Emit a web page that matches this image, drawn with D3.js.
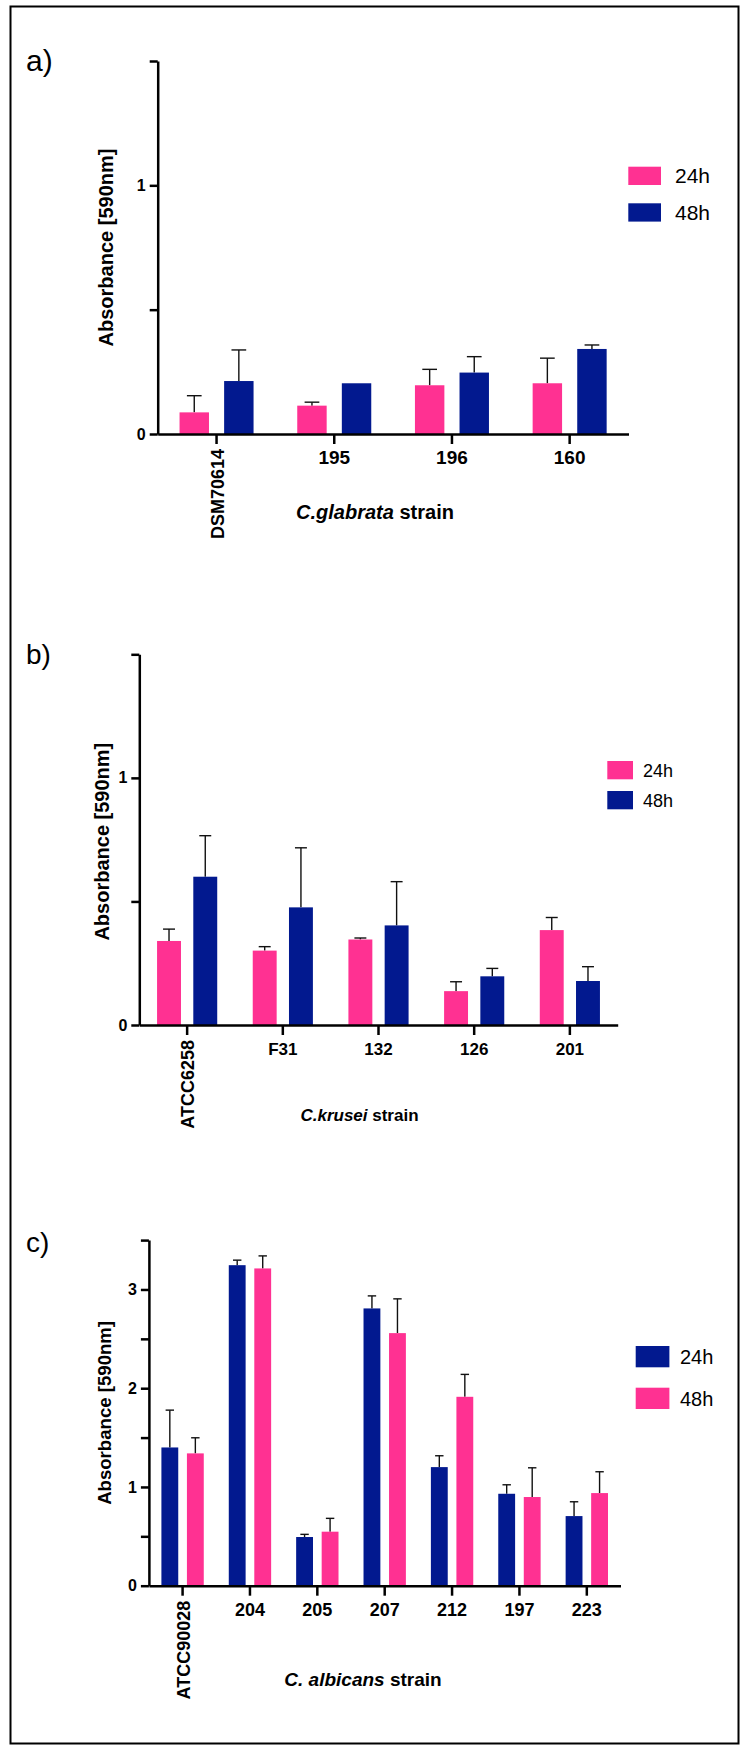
<!DOCTYPE html>
<html>
<head>
<meta charset="utf-8">
<script src="https://cdn.jsdelivr.net/npm/d3@7"></script>
<style>
  body { margin: 0; background: #fff; }
  text { font-family: Arial, "Liberation Sans", sans-serif; }
</style>
</head>
<body>
<div id="vis"></div>
<script>
// values (error = SD, drawn upwards only)
var glabrataStrains = ["DSM70614", "195", "196", "160"],
    glabrata24 = [0.087, 0.114, 0.196, 0.204],
    glabrata24Err = [0.067, 0.014, 0.064, 0.101],
    glabrata48 = [0.213, 0.204, 0.247, 0.342],
    glabrata48Err = [0.125, 0, 0.064, 0.016];

var kruseiStrains = ["ATCC6258", "F31", "132", "126", "201"],
    krusei24 = [0.340, 0.301, 0.346, 0.137, 0.384],
    krusei24Err = [0.048, 0.016, 0.006, 0.038, 0.051],
    krusei48 = [0.600, 0.476, 0.403, 0.197, 0.178],
    krusei48Err = [0.166, 0.241, 0.177, 0.032, 0.058];

var albicansStrains = ["ATCC90028", "204", "205", "207", "212", "197", "223"],
    albicans24 = [1.40, 3.246, 0.493, 2.808, 1.201, 0.931, 0.705],
    albicans24Err = [0.378, 0.051, 0.027, 0.127, 0.115, 0.091, 0.145],
    albicans48 = [1.34, 3.213, 0.547, 2.558, 1.913, 0.898, 0.938],
    albicans48Err = [0.158, 0.127, 0.135, 0.347, 0.227, 0.296, 0.216];

var series = ["24h", "48h"];

var pink = "#ff3192",
    navy = "#02198f";

var w = 741, h = 1746;

var svg = d3.select("#vis").append("svg")
    .attr("width", w)
    .attr("height", h);

svg.append("rect")
    .attr("x", 10.5).attr("y", 6.5)
    .attr("width", 728).attr("height", 1737)
    .attr("fill", "none")
    .attr("stroke", "#000")
    .attr("stroke-width", 2);

function drawPanel(p) {
  var g = svg.append("g");

  var x = d3.scaleBand().domain(p.strains).range([p.left, p.right]);
  var x1 = d3.scaleBand().domain(series).range([0, x.bandwidth()])
      .paddingInner(0.34).paddingOuter(0.49);
  var y = d3.scaleLinear().domain([0, p.max]).range([p.bottom, p.top]);

  var rows = [];
  p.strains.forEach(function(s, i) {
    rows.push({strain: s, key: "24h", v: p.v24[i], e: p.e24[i]});
    rows.push({strain: s, key: "48h", v: p.v48[i], e: p.e48[i]});
  });

  // error bars (upper only)
  var eb = g.selectAll(".err")
      .data(rows.filter(function(d) { return d.e > 0; }))
    .enter().append("g")
      .attr("class", "err")
      .attr("stroke", "#111")
      .attr("stroke-width", 1.4);
  eb.append("line")
      .attr("x1", function(d) { return x(d.strain) + x1(d.key) + x1.bandwidth() / 2; })
      .attr("x2", function(d) { return x(d.strain) + x1(d.key) + x1.bandwidth() / 2; })
      .attr("y1", function(d) { return y(d.v); })
      .attr("y2", function(d) { return y(d.v + d.e); });
  eb.append("line")
      .attr("x1", function(d) { return x(d.strain) + x1(d.key) + x1.bandwidth() / 4; })
      .attr("x2", function(d) { return x(d.strain) + x1(d.key) + x1.bandwidth() * 3 / 4; })
      .attr("y1", function(d) { return y(d.v + d.e); })
      .attr("y2", function(d) { return y(d.v + d.e); });

  g.selectAll(".bar")
      .data(rows)
    .enter().append("rect")
      .attr("class", "bar")
      .attr("x", function(d) { return x(d.strain) + x1(d.key); })
      .attr("y", function(d) { return y(d.v); })
      .attr("width", x1.bandwidth())
      .attr("height", function(d) { return y(0) - y(d.v); })
      .attr("fill", function(d) { return p.colors[d.key]; });

  // y axis
  var yAxis = g.append("g")
      .attr("transform", "translate(" + p.left + ",0)")
      .call(d3.axisLeft(y)
        .tickValues(d3.range(0, p.max + 0.001, 0.5))
        .tickFormat(function(d) { return d % 1 === 0 ? d : ""; })
        .tickSize(8).tickSizeOuter(0).tickPadding(4));
  yAxis.selectAll("path, line").attr("stroke", "#000").attr("stroke-width", 2.5);
  yAxis.selectAll("text")
      .attr("fill", "#000")
      .style("font-size", "16px")
      .style("font-weight", "bold");

  // x axis
  var xAxis = g.append("g")
      .attr("transform", "translate(0," + p.bottom + ")")
      .call(d3.axisBottom(x).tickSize(10).tickSizeOuter(0));
  xAxis.selectAll("path, line").attr("stroke", "#000").attr("stroke-width", 2.5);
  xAxis.selectAll("text")
      .attr("fill", "#000")
      .attr("y", 30)
      .attr("dy", 0)
      .style("font-size", p.xFont + "px")
      .style("font-weight", "bold");
  xAxis.selectAll("text")
      .filter(function(d, i) { return i === 0; })
      .attr("transform", "rotate(-90)")
      .attr("text-anchor", "end")
      .attr("x", -15)
      .attr("y", 7)
      .style("font-size", "18px");

  // y title
  g.append("text")
      .attr("transform", "translate(" + p.yTitleX + "," + ((p.top + p.bottom) / 2 + p.yTitleShift) + ") rotate(-90)")
      .attr("text-anchor", "middle")
      .style("font-size", p.yTitleFont + "px")
      .style("font-weight", "bold")
      .text("Absorbance [590nm]");

  // x title
  var xt = g.append("text")
      .attr("x", p.xTitleX)
      .attr("y", p.xTitleY)
      .attr("text-anchor", "middle")
      .style("font-size", p.xTitleFont + "px")
      .style("font-weight", "bold");
  xt.append("tspan").style("font-style", "italic").text(p.species);
  xt.append("tspan").text(" strain");

  // panel letter
  g.append("text")
      .attr("x", 26)
      .attr("y", p.letterY)
      .style("font-size", p.letterFont + "px")
      .text(p.letter);

  // legend
  var lg = g.selectAll(".leg")
      .data(series)
    .enter().append("g")
      .attr("class", "leg")
      .attr("transform", function(d, i) { return "translate(" + p.legX + "," + (p.legY + i * p.legGap) + ")"; });
  lg.append("rect")
      .attr("width", p.legW)
      .attr("height", p.legH)
      .attr("fill", function(d) { return p.colors[d]; });
  lg.append("text")
      .attr("x", p.legW + p.legTextGap)
      .attr("y", p.legH / 2 + p.legFont * 0.36)
      .style("font-size", p.legFont + "px")
      .text(function(d) { return d; });
}

drawPanel({
  strains: glabrataStrains, v24: glabrata24, e24: glabrata24Err, v48: glabrata48, e48: glabrata48Err,
  colors: {"24h": pink, "48h": navy},
  left: 157.7, right: 628.5, top: 61, bottom: 434, max: 1.5,
  xFont: 19, yTitleX: 113, yTitleShift: 0, yTitleFont: 20,
  species: "C.glabrata", xTitleX: 375, xTitleY: 519, xTitleFont: 20,
  letter: "a)", letterY: 71, letterFont: 30,
  legX: 628.3, legY: 166.7, legGap: 36.6, legW: 32.7, legH: 18.3, legTextGap: 14, legFont: 21
});

drawPanel({
  strains: kruseiStrains, v24: krusei24, e24: krusei24Err, v48: krusei48, e48: krusei48Err,
  colors: {"24h": pink, "48h": navy},
  left: 139.3, right: 617.7, top: 654.3, bottom: 1025, max: 1.5,
  xFont: 17, yTitleX: 109, yTitleShift: 2, yTitleFont: 20,
  species: "C.krusei", xTitleX: 359.5, xTitleY: 1121, xTitleFont: 17,
  letter: "b)", letterY: 664, letterFont: 28,
  legX: 607.3, legY: 761, legGap: 30, legW: 25.7, legH: 18.3, legTextGap: 10, legFont: 18
});

drawPanel({
  strains: albicansStrains, v24: albicans24, e24: albicans24Err, v48: albicans48, e48: albicans48Err,
  colors: {"24h": navy, "48h": pink},
  left: 148.9, right: 620.5, top: 1240.1, bottom: 1585.7, max: 3.5,
  xFont: 18, yTitleX: 111, yTitleShift: 0, yTitleFont: 18.6,
  species: "C. albicans", xTitleX: 363, xTitleY: 1686, xTitleFont: 19,
  letter: "c)", letterY: 1252, letterFont: 28,
  legX: 635.7, legY: 1346, legGap: 41.7, legW: 33.7, legH: 21.3, legTextGap: 10.5, legFont: 20
});
</script>
</body>
</html>
